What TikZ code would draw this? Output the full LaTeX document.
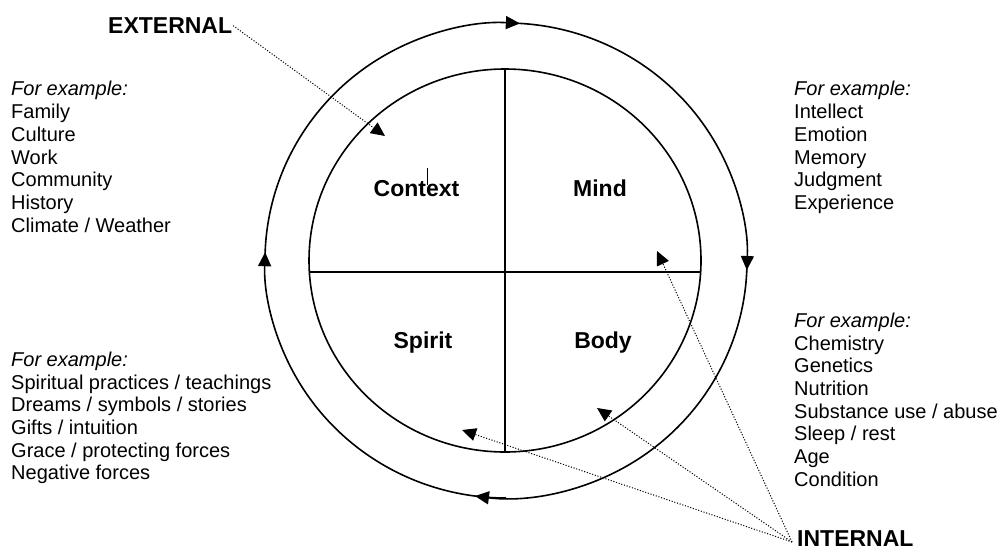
\documentclass[tikz,border=0pt]{standalone}
\usepackage{fontspec}
\setmainfont{Liberation Sans}
\usetikzlibrary{arrows.meta}
\begin{document}
\begin{tikzpicture}[x=1pt,y=1pt,
  ring/.style={line width=1.6pt},
  cyc/.style={line width=1.6pt,-{Triangle[length=14pt,width=13pt]}},
  pointer/.style={line width=1pt,dash pattern=on 1.1pt off 1.7pt,-{Triangle[length=14pt,width=13pt]}},
  listtxt/.style={anchor=north west,align=left,inner sep=0pt,font=\fontsize{20}{22.7}\selectfont},
  quad/.style={anchor=base,inner sep=0pt,font=\fontsize{23}{28}\selectfont\bfseries},
  tag/.style={anchor=base west,inner sep=0pt,font=\fontsize{23}{28}\selectfont\bfseries}]
\useasboundingbox (0,0) rectangle (1000,-552);
% outer cycle
\coordinate (O) at (506,-260.5);
\draw[cyc] (O) ++(180:241 and 237.5) arc[start angle=180,end angle=86.7,x radius=241,y radius=237.5];
\draw[cyc] (O) ++(90:241 and 237.5) arc[start angle=90,end angle=-2.3,x radius=241,y radius=237.5];
\draw[cyc] (O) ++(0:241 and 237.5) arc[start angle=0,end angle=-97.4,x radius=241,y radius=237.5];
\draw[cyc] (O) ++(-90:241 and 237.5) arc[start angle=-90,end angle=-182,x radius=241,y radius=237.5];
% inner circle and quadrants
\coordinate (C) at (505,-260.5);
\draw[ring] (C) ellipse[x radius=196,y radius=191.5];
\draw[ring] (505,-69) -- (505,-452);
\draw[ring] (309.4,-272) -- (700.6,-272);
% quadrant labels
\node[quad] (context) at (416.5,-196) {Context};
\node[quad] (mind) at (600,-196) {Mind};
\node[quad] (spirit) at (423,-348) {Spirit};
\node[quad] (body) at (603,-348) {Body};
\draw[line width=0.6pt] (427,-168) -- (427,-185);
% example lists
\node[listtxt] (ctxlist) at (11,-81.3) {\textit{For example:}\\Family\\Culture\\Work\\Community\\History\\Climate / Weather};
\node[listtxt] (mindlist) at (794,-81.3) {\textit{For example:}\\Intellect\\Emotion\\Memory\\Judgment\\Experience};
\node[listtxt] (spiritlist) at (11,-351.7) {\textit{For example:}\\Spiritual practices / teachings\\Dreams / symbols / stories\\Gifts / intuition\\Grace / protecting forces\\Negative forces};
\node[listtxt] (bodylist) at (794,-312.7) {\textit{For example:}\\Chemistry\\Genetics\\Nutrition\\Substance use / abuse\\Sleep / rest\\Age\\Condition};
% external / internal pointers
\node[tag] (ext) at (108,-33) {EXTERNAL};
\node[tag] (int) at (797,-546) {INTERNAL};
\coordinate (exttip) at (385,-136);
\draw[pointer,shorten <=1pt] (ext.east) -- (exttip);
\coordinate (hub) at (792,-542);
\coordinate (mindtip) at (657,-251);
\coordinate (bodytip) at (597,-408);
\coordinate (spirittip) at (462,-430);
\draw[pointer] (hub) -- (mindtip);
\draw[pointer] (hub) -- (bodytip);
\draw[pointer] (hub) -- (spirittip);
\end{tikzpicture}
\end{document}
